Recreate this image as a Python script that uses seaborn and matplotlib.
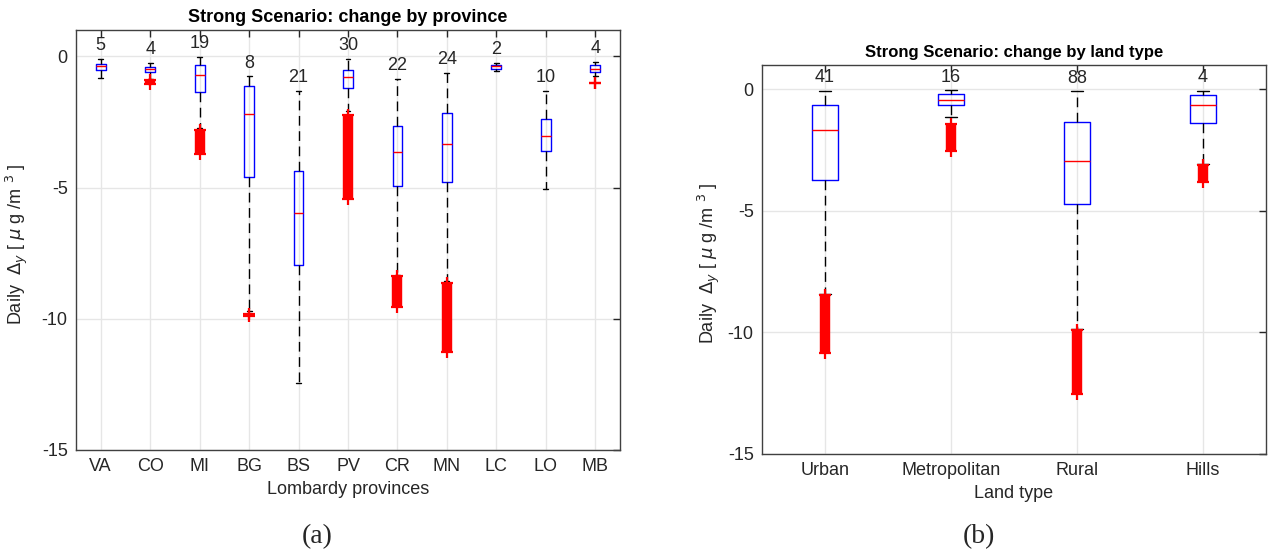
import numpy as np
import matplotlib
matplotlib.use('Agg')
import matplotlib.pyplot as plt
import seaborn as sns

# ---- data (box stats per group) ----
provinces = ['VA', 'CO', 'MI', 'BG', 'BS', 'PV', 'CR', 'MN', 'LC', 'LO', 'MB']
prov_n = [5, 4, 19, 8, 21, 30, 22, 24, 2, 10, 4]
prov_whishi = [-0.09, -0.25, -0.03, -0.76, -1.32, -0.09, -0.85, -0.63, -0.25, -1.33, -0.22]
prov_q3 = [-0.28, -0.41, -0.33, -1.13, -4.37, -0.51, -2.66, -2.15, -0.33, -2.40, -0.34]
prov_med = [-0.39, -0.49, -0.73, -2.20, -5.98, -0.80, -3.66, -3.35, -0.39, -3.04, -0.47]
prov_q1 = [-0.51, -0.60, -1.37, -4.61, -7.95, -1.22, -4.93, -4.78, -0.47, -3.61, -0.60]
prov_whislo = [-0.81, -0.85, -2.74, -9.72, -12.45, -2.10, -8.33, -8.58, -0.56, -5.07, -0.76]
# outlier extent (top / bottom of the red '+' block), nan = none
prov_fl_hi = [np.nan, -0.92, -2.80, -9.80, np.nan, -2.24, -8.36, -8.65, np.nan, np.nan, -1.00]
prov_fl_lo = [np.nan, -1.06, -3.72, -9.90, np.nan, -5.45, -9.55, -11.25, np.nan, np.nan, -1.00]

land = ['Urban', 'Metropolitan', 'Rural', 'Hills']
land_n = [41, 16, 88, 4]
land_whishi = [-0.07, -0.04, -0.08, -0.07]
land_q3 = [-0.63, -0.18, -1.34, -0.23]
land_med = [-1.68, -0.42, -2.94, -0.63]
land_q1 = [-3.74, -0.64, -4.72, -1.38]
land_whislo = [-8.42, -1.15, -9.87, -3.09]
land_fl_hi = [-8.45, -1.41, -9.90, -3.12]
land_fl_lo = [-10.85, -2.55, -12.55, -3.80]

sns.set_style('whitegrid')
plt.rcParams['font.family'] = ['Liberation Sans', 'DejaVu Sans']
plt.rcParams['mathtext.fontset'] = 'dejavusans'

ylab = r'Daily  $\Delta_y$ [ $\mu$ g /m $^3$ ]'
dark = '0.15'
fs = 13


def draw_panel(ax, cats, n, whishi, q3, med, q1, whislo, fl_hi, fl_lo,
               title, xlabel, title_size, ylab_x):
    pos = np.arange(1, len(cats) + 1)
    stats = []
    for i in range(len(cats)):
        stats.append(dict(med=med[i], q1=q1[i], q3=q3[i],
                          whislo=whislo[i], whishi=whishi[i], fliers=[]))
    ax.bxp(stats, positions=pos, widths=0.2, capwidths=0.1,
           showfliers=False, manage_ticks=False,
           boxprops=dict(color='blue', lw=1.0),
           medianprops=dict(color='red', lw=1.0),
           whiskerprops=dict(color='black', lw=1.0, ls=(0, (7, 4))),
           capprops=dict(color='black', lw=1.0))

    # outliers: dense red '+' blocks
    fl_hi = np.array(fl_hi, dtype=float)
    fl_lo = np.array(fl_lo, dtype=float)
    has = ~np.isnan(fl_hi)
    ax.vlines(pos[has], fl_lo[has], fl_hi[has], color='red', lw=7.5, zorder=3)
    sns.scatterplot(x=np.concatenate([pos[has], pos[has]]),
                    y=np.concatenate([fl_hi[has], fl_lo[has]]),
                    marker='+', s=70, color='red', linewidth=1.6,
                    ax=ax, zorder=4)

    for p, w, k in zip(pos, whishi, n):
        ax.annotate(str(k), (p, w), xytext=(0, 9.5), textcoords='offset points',
                    ha='center', va='center', fontsize=fs, color=dark)

    ax.set_xlim(0.5, len(cats) + 0.5)
    ax.set_ylim(-15, 1)
    ax.set_xticks(pos)
    ax.set_xticklabels(cats)
    ax.set_yticks([-15, -10, -5, 0])
    ax.set_yticklabels(['-15', '-10', '-5', '0'])
    ax.tick_params(direction='in', length=5, width=1, colors=dark,
                   labelsize=fs, top=True, right=True, pad=6)
    ax.grid(True, color='0.9', lw=1)
    for s in ax.spines.values():
        s.set_color('0.25')
        s.set_linewidth(1.0)
    ax.set_title(title, fontsize=title_size, fontweight='bold', pad=6, color='black')
    ax.set_xlabel(xlabel, fontsize=fs, color=dark, labelpad=4)
    ax.set_ylabel(ylab, fontsize=fs, color=dark)
    ax.yaxis.set_label_coords(ylab_x, 0.49)


W, H = 1268, 553
fig = plt.figure(figsize=(W / 100, H / 100), dpi=100)
ax1 = fig.add_axes([76 / W, (H - 450) / H, (620 - 76) / W, (450 - 30) / H])
ax2 = fig.add_axes([762 / W, (H - 454) / H, (1266 - 762) / W, (454 - 65) / H])

draw_panel(ax1, provinces, prov_n, prov_whishi, prov_q3, prov_med, prov_q1,
           prov_whislo, prov_fl_hi, prov_fl_lo,
           'Strong Scenario: change by province', 'Lombardy provinces', 13, -0.085)
draw_panel(ax2, land, land_n, land_whishi, land_q3, land_med, land_q1,
           land_whislo, land_fl_hi, land_fl_lo,
           'Strong Scenario: change by land type', 'Land type', 12, -0.08)

fig.text(317 / W, 1 - 537 / H, '(a)', family='Liberation Serif', fontsize=20,
         ha='center', va='center')
fig.text(979 / W, 1 - 537 / H, '(b)', family='Liberation Serif', fontsize=20,
         ha='center', va='center')

fig.savefig('out.png', dpi=100)
